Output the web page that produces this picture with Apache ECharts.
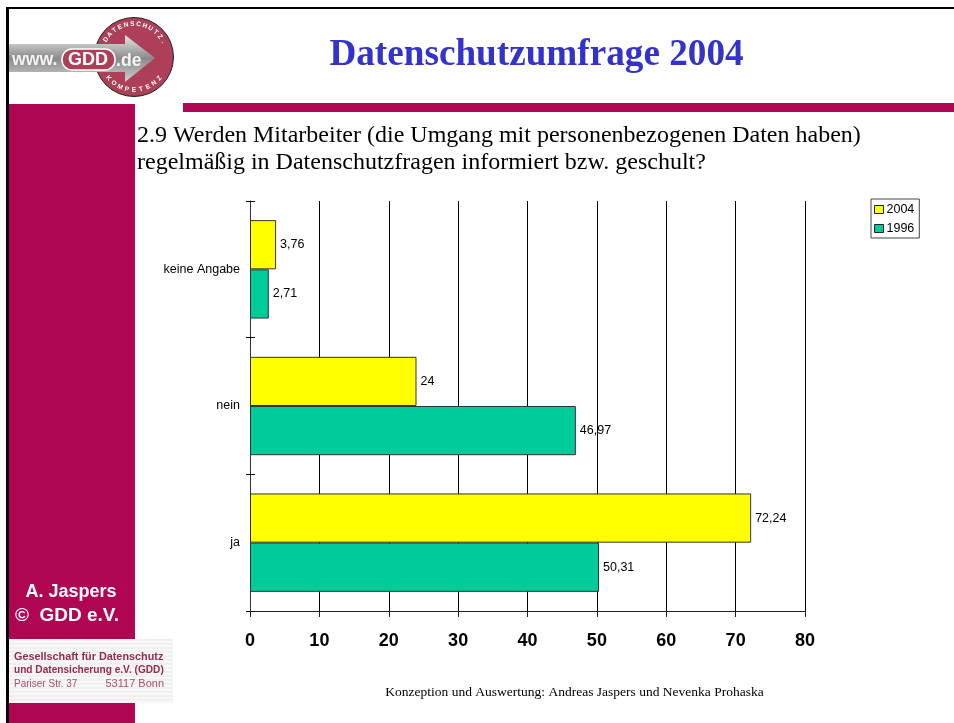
<!DOCTYPE html>
<html><head><meta charset="utf-8">
<style>html,body{margin:0;padding:0;background:#fff}#c{width:954px;height:723px}</style>
<script src="https://cdn.jsdelivr.net/npm/echarts@6/dist/echarts.min.js"></script>
</head><body><div id="c"></div>
<script>
const categories = ['ja', 'nein', 'keine Angabe'];
const values2004 = [72.24, 24, 3.76];
const values1996 = [50.31, 46.97, 2.71];
const seriesNames = ['2004', '1996'];
const title = 'Datenschutzumfrage 2004';
const question = ['2.9 Werden Mitarbeiter (die Umgang mit personenbezogenen Daten haben)', 'regelmäßig in Datenschutzfragen informiert bzw. geschult?'];
const footer = 'Konzeption und Auswertung: Andreas Jaspers und Nevenka Prohaska';

const MAROON = '#b00552', SERIF = '"Liberation Serif"', SANS = '"Liberation Sans"';
const chart = echarts.init(document.getElementById('c'), null, {renderer: 'canvas'});
const rect = (x, y, w, h, fill, z) => ({type: 'rect', shape: {x, y, width: w, height: h}, style: {fill}, z: z || 0, silent: true});
const txt = (x, y, text, font, fill, align, z, sx) => ({type: 'text', x, y, scaleX: sx || 1, style: {text, font, fill, align: align || 'left', verticalAlign: 'middle'}, z: z || 5, silent: true});
const label = {show: true, position: 'right', distance: 4, color: '#000', fontFamily: SANS, fontSize: 12.5,
  formatter: p => String(p.value).replace('.', ',')};

// lettering running round the logo's disc
function arcText(str, cx, cy, r, startDeg, stepDeg, bottom) {
  return str.split('').map((ch, i) => {
    const a = (startDeg + i * stepDeg) * Math.PI / 180;
    return {type: 'text', x: cx + r * Math.cos(a), y: cy + r * Math.sin(a),
      rotation: bottom ? -(a - Math.PI / 2) : -(a + Math.PI / 2),
      style: {text: ch, font: 'bold 6.5px ' + SANS, fill: '#fff', align: 'center', verticalAlign: 'middle'}, z: 6, silent: true};
  });
}
// faint stripes on the address block
const stripes = [];
for (let y = 641; y < 703; y += 4) stripes.push(rect(9, y, 164, 1.5, '#fafafa', 3));

chart.setOption({
  animation: false,
  backgroundColor: '#fff',
  grid: {left: 250, top: 201, width: 555, height: 410, containLabel: false},
  legend: {
    data: seriesNames, orient: 'vertical', left: 871, top: 199, itemWidth: 9, itemHeight: 8, itemGap: 6,
    padding: [4, 5, 3, 3], borderColor: '#444', borderWidth: 1, borderRadius: 0, backgroundColor: '#fff',
    textStyle: {fontFamily: SANS, fontSize: 12.5, color: '#000', padding: [0, 0, 0, -2]},
    itemStyle: {borderColor: '#222', borderWidth: 1}, icon: 'rect'
  },
  xAxis: {
    type: 'value', min: 0, max: 80, interval: 10,
    axisLine: {show: true, lineStyle: {color: '#222'}},
    axisTick: {show: true, inside: false, length: 6, lineStyle: {color: '#222'}},
    axisLabel: {fontFamily: SANS, fontWeight: 'bold', fontSize: 18, color: '#000', margin: 21},
    splitLine: {show: true, lineStyle: {color: '#000', width: 1}}
  },
  yAxis: [{
    type: 'category', data: categories,
    axisLine: {show: true, lineStyle: {color: '#333'}},
    axisTick: {show: true, alignWithLabel: false, length: 4, lineStyle: {color: '#000'}},
    axisLabel: {fontFamily: SANS, fontSize: 12.5, color: '#000', margin: 10},
    splitLine: {show: false}
  }, {
    type: 'category', data: categories, position: 'left',
    axisLine: {show: false}, axisLabel: {show: false},
    axisTick: {show: true, inside: true, length: 5, lineStyle: {color: '#000'}},
    splitLine: {show: false}
  }],
  series: [
    {name: '2004', type: 'bar', data: values2004, barGap: 0, barCategoryGap: '28%',
     itemStyle: {color: '#ffff00', borderColor: '#333', borderWidth: 1}, label, z: 3},
    {name: '1996', type: 'bar', data: values1996,
     itemStyle: {color: '#00cc99', borderColor: '#333', borderWidth: 1}, label, z: 3}
  ],
  graphic: {elements: [
    rect(6, 7, 948, 2, '#000', 10),
    rect(6, 7, 3, 716, '#000', 10),
    rect(183, 103, 771, 9, MAROON),
    rect(8, 104, 127, 619, MAROON),
    rect(8, 639, 165, 64, '#f0f0f0', 2),
    ...stripes,
    txt(536.5, 55, title, 'bold 37.2px ' + SERIF, '#3333cc', 'center'),
    txt(137, 136, question[0], '24px ' + SERIF, '#000'),
    txt(137, 163, question[1], '24px ' + SERIF, '#000'),
    txt(574.5, 692, footer, '13.5px ' + SERIF, '#000', 'center'),
    txt(71, 592.5, 'A. Jaspers', 'bold 18px ' + SANS, '#fff', 'center'),
    txt(67, 615.5, '©  GDD e.V.', 'bold 19px ' + SANS, '#fff', 'center'),
    txt(14, 657, 'Gesellschaft für Datenschutz', 'bold 11px ' + SANS, '#962a50', 'left', 5, .985),
    txt(14, 670, 'und Datensicherung e.V. (GDD)', 'bold 11px ' + SANS, '#962a50', 'left', 5, .92),
    txt(14, 684, 'Pariser Str. 37', '11px ' + SANS, '#a8506e', 'left', 5, .91),
    txt(164, 684, '53117 Bonn', '11px ' + SANS, '#a8506e', 'right'),
    {type: 'circle', shape: {cx: 134, cy: 57, r: 39.5}, style: {fill: '#ad4058', stroke: '#222', lineWidth: 1}, z: 3, silent: true},
    ...arcText('DATENSCHUTZ.', 134, 57, 33, -148, 11, false),
    ...arcText('KOMPETENZ', 134, 57, 33, 140, -12.5, true),
    {type: 'polygon', shape: {points: [[9, 44], [125, 44], [125, 35], [155, 58], [125, 82], [125, 72], [9, 72]]},
     style: {fill: new echarts.graphic.LinearGradient(0, 0, 0, 1, [{offset: 0, color: '#e8e8e8'}, {offset: .5, color: '#8a8a8a'}, {offset: 1, color: '#d0d0d0'}])}, z: 4, silent: true},
    {type: 'rect', shape: {x: 62, y: 49, width: 53, height: 21, r: 10}, style: {fill: '#ad4058', stroke: '#fff', lineWidth: 1.5}, z: 5, silent: true},
    txt(12, 60, 'www.', 'bold 19px ' + SANS, '#f4f4f4', 'left', 6, .93),
    txt(88, 60, 'GDD', 'bold 18px ' + SANS, '#fff', 'center', 6),
    txt(116, 61, '.de', 'bold 19px ' + SANS, '#f4f4f4', 'left', 6, .93)
  ]}
});
</script></body></html>
